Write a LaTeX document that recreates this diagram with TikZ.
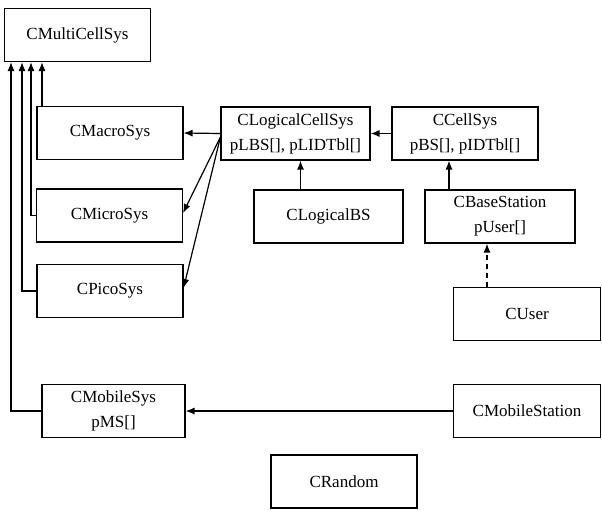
\documentclass[tikz,border=0pt]{standalone}
\usepackage{fontspec}
\setmainfont{Liberation Serif}
\usetikzlibrary{arrows.meta}

\begin{document}
\begin{tikzpicture}[x=1pt,y=-1pt,
		cls/.style={draw, black, line width=1.1pt, inner sep=0pt, align=center,
			minimum width=146pt, minimum height=53pt, font=\fontsize{17}{25}\selectfont},
		link/.style={line width=1.2pt, -{Latex[length=9pt,width=7pt]}}]
		\useasboundingbox (0,0) rectangle (602,512);
		% classes
		\node [cls] (multi) at (77.5,35) {CMultiCellSys};
		\node [cls] (macro) at (110,133) {CMacroSys};
		\node [cls] (micro) at (109.5,215.5) {CMicroSys};
		\node [cls] (pico) at (110,291) {CPicoSys};
		\node [cls, minimum width=143pt] (mobsys) at (113.5,411) {CMobileSys\\pMS[]};
		\node [cls, minimum width=149pt] (lcell) at (295.5,133.5) {CLogicalCellSys\\pLBS[], pLIDTbl[]};
		\node [cls, minimum width=149pt] (lbs) at (328.5,216.5) {CLogicalBS};
		\node [cls] (cell) at (465,133.5) {CCellSys\\pBS[], pIDTbl[]};
		\node [cls, minimum width=150pt] (bs) at (500,216.5) {CBaseStation\\pUser[]};
		\node [cls, minimum width=147pt] (user) at (527,314) {CUser};
		\node [cls, minimum width=147pt] (mobst) at (527,411) {CMobileStation};
		\node [cls] (random) at (344,481.5) {CRandom};
		\coordinate (lsplit) at ([yshift=-3.5pt]lcell.west);
		% links
		\draw [link] ([xshift=-68pt]macro.north) -- ([xshift=-68pt]macro.north |- multi.south);
		\draw [link] (micro.west) -| ([xshift=-46.5pt]multi.south);
		\draw [link] (pico.west) -| ([xshift=-55.5pt]multi.south);
		\draw [link] (mobsys.west) -| ([xshift=-66.5pt]multi.south);
		\draw [link] (lcell.west) -- (macro.east);
		\draw [link] (lsplit) -- ([yshift=2.5pt]micro.east);
		\draw [link] (lsplit) -- ([yshift=3pt]pico.east);
		\draw [link] (cell.west) -- (lcell.east);
		\draw [link] ([xshift=-28pt]lbs.north) -- ([xshift=-28pt]lbs.north |- lcell.south);
		\draw [link] ([xshift=-16pt]cell.south |- bs.north) -- ([xshift=-16pt]cell.south);
		\draw [link, dash pattern=on 5pt off 4pt] ([xshift=-13pt]bs.south |- user.north) -- ([xshift=-13pt]bs.south);
		\draw [link] (mobst.west) -- (mobsys.east);
	\end{tikzpicture}
\end{document}
